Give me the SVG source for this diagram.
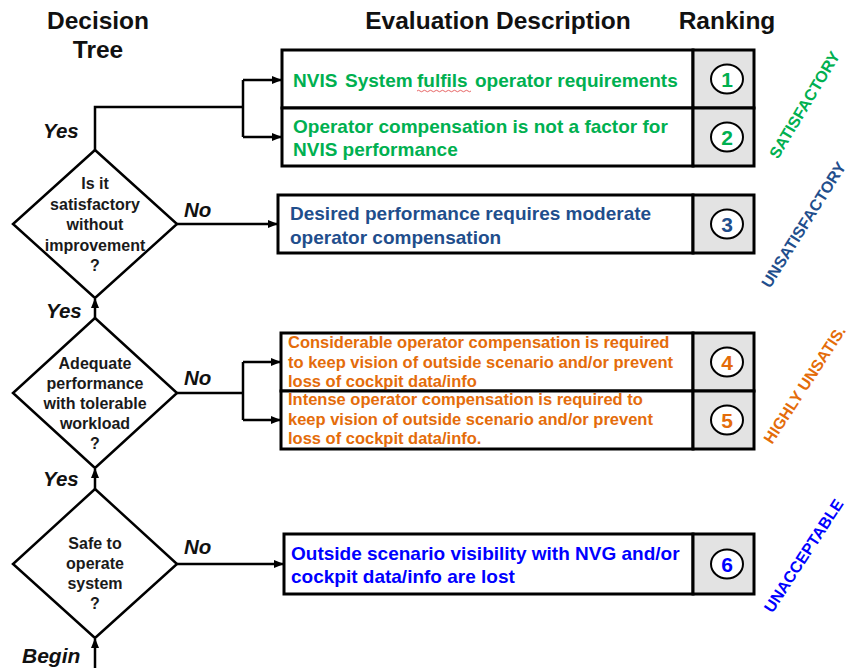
<svg xmlns="http://www.w3.org/2000/svg" width="858" height="668" viewBox="0 0 858 668">
<style>
.hdr{font-family:"Liberation Sans",Arial,sans-serif;font-weight:bold;font-size:24.5px;fill:#111;text-anchor:middle}
.box{fill:#fff;stroke:#000;stroke-width:3}
.rank{fill:#e3e3e3;stroke:#000;stroke-width:3}
.circ{fill:#fff;stroke:#000;stroke-width:2}
.num{font-family:"Liberation Sans",Arial,sans-serif;font-weight:bold;font-size:21px;text-anchor:middle}
.txt{font-family:"Liberation Sans",Arial,sans-serif;font-weight:bold;font-size:19px}
.txt2{font-family:"Liberation Sans",Arial,sans-serif;font-weight:bold;font-size:16.5px;fill:#e46c0a}
.dia{fill:#fff;stroke:#000;stroke-width:2.5}
.dtxt{font-family:"Liberation Sans",Arial,sans-serif;font-weight:bold;font-size:16px;fill:#1a1a1a;text-anchor:middle}
.lbl{font-family:"Liberation Sans",Arial,sans-serif;font-weight:bold;font-style:italic;font-size:20.5px;fill:#111}
.side{font-family:"Liberation Sans",Arial,sans-serif;font-weight:bold;font-size:16px;text-anchor:middle}
.con{fill:none;stroke:#000;stroke-width:2.5}
.green{fill:#00b050}.dblue{fill:#1f4e8c}.orange{fill:#e46c0a}.blue{fill:#0000ff}
</style>
<defs>
<marker id="ah" markerWidth="10" markerHeight="10" refX="9" refY="5" orient="auto" markerUnits="userSpaceOnUse">
<path d="M0,1 L10,5 L0,9 Z" fill="#000"/>
</marker>
</defs>

<g id="headers">
<text class="hdr" x="98" y="29">Decision</text>
<text class="hdr" x="98" y="58">Tree</text>
<text class="hdr" x="498" y="29">Evaluation Description</text>
<text class="hdr" x="727" y="29">Ranking</text>
</g>

<g id="connectors">
<path class="con" d="M95,150 V107 H243"/>
<path class="con" d="M243,80 V137"/>
<path class="con" d="M243,80 H281" marker-end="url(#ah)"/>
<path class="con" d="M243,137 H281" marker-end="url(#ah)"/>
<path class="con" d="M177,224 H277" marker-end="url(#ah)"/>
<path class="con" d="M95,318 V299" marker-end="url(#ah)"/>
<path class="con" d="M177,393 H243"/>
<path class="con" d="M243,362 V420"/>
<path class="con" d="M243,362 H280" marker-end="url(#ah)"/>
<path class="con" d="M243,420 H280" marker-end="url(#ah)"/>
<path class="con" d="M95,489 V469" marker-end="url(#ah)"/>
<path class="con" d="M177,564 H283" marker-end="url(#ah)"/>
<path class="con" d="M95,668 V639" marker-end="url(#ah)"/>
<text class="lbl" x="43" y="138">Yes</text>
<text class="lbl" x="184" y="217">No</text>
<text class="lbl" x="46" y="318">Yes</text>
<text class="lbl" x="184" y="385">No</text>
<text class="lbl" x="43" y="486">Yes</text>
<text class="lbl" x="184" y="554">No</text>
<text class="lbl" x="22" y="663" style="font-size:21px">Begin</text>
</g>

<g id="d1">
<polygon class="dia" points="95,150 177,224 95,298 13,224"/>
<text class="dtxt" x="95" y="189">Is it</text>
<text class="dtxt" x="95" y="210">satisfactory</text>
<text class="dtxt" x="95" y="230">without</text>
<text class="dtxt" x="95" y="251">improvement</text>
<text class="dtxt" x="95" y="271">?</text>
</g>
<g id="d2">
<polygon class="dia" points="95,318 177,393 95,468 13,393"/>
<text class="dtxt" x="95" y="369">Adequate</text>
<text class="dtxt" x="95" y="389">performance</text>
<text class="dtxt" x="95" y="409">with tolerable</text>
<text class="dtxt" x="95" y="429">workload</text>
<text class="dtxt" x="95" y="449">?</text>
</g>
<g id="d3">
<polygon class="dia" points="95,489 177,564 95,638 13,564"/>
<text class="dtxt" x="95" y="549">Safe to</text>
<text class="dtxt" x="95" y="569">operate</text>
<text class="dtxt" x="95" y="589">system</text>
<text class="dtxt" x="95" y="609">?</text>
</g>

<g id="b1">
<rect class="box" x="282" y="50" width="411" height="58"/>
<rect class="rank" x="693" y="50" width="61" height="58"/>
<text class="txt green" y="87"><tspan x="293">NVIS </tspan><tspan x="345">System </tspan><tspan x="417">fulfils </tspan><tspan x="475">operator requirements</tspan></text>
<path d="M417,91 q1.5,-1.5 3,0 t3,0 t3,0 t3,0 t3,0 t3,0 t3,0 t3,0 t3,0 t3,0 t3,0 t3,0 t3,0 t3,0 t3,0 t3,0 t3,0 t3,0" fill="none" stroke="#e04040" stroke-width="0.8"/>
<ellipse class="circ" cx="727" cy="79" rx="16" ry="14.5"/>
<text class="num green" x="727" y="87">1</text>
</g>
<g id="b2">
<rect class="box" x="282" y="108" width="411" height="58"/>
<rect class="rank" x="693" y="108" width="61" height="58"/>
<text class="txt green" x="293" y="133">Operator compensation is not a factor for</text>
<text class="txt green" x="293" y="156">NVIS performance</text>
<ellipse class="circ" cx="727" cy="137" rx="16" ry="14.5"/>
<text class="num green" x="727" y="145">2</text>
</g>
<g id="b3">
<rect class="box" x="278" y="195" width="415" height="58"/>
<rect class="rank" x="693" y="195" width="61" height="58"/>
<text class="txt dblue" x="290" y="220">Desired performance requires moderate</text>
<text class="txt dblue" x="290" y="244">operator compensation</text>
<ellipse class="circ" cx="727" cy="224" rx="16" ry="14.5"/>
<text class="num dblue" x="727" y="232">3</text>
</g>
<g id="b4">
<rect class="box" x="281" y="333" width="412" height="58"/>
<rect class="rank" x="693" y="333" width="61" height="58"/>
<text class="txt2" x="288" y="348">Considerable operator compensation is required</text>
<text class="txt2" x="288" y="368">to keep vision of outside scenario and/or prevent</text>
<text class="txt2" x="288" y="387">loss of cockpit data/info</text>
<ellipse class="circ" cx="727" cy="362" rx="16" ry="14.5"/>
<text class="num orange" x="727" y="370">4</text>
</g>
<g id="b5">
<rect class="box" x="281" y="391" width="412" height="58"/>
<rect class="rank" x="693" y="391" width="61" height="58"/>
<text class="txt2" x="288" y="405">Intense operator compensation is required to</text>
<text class="txt2" x="288" y="425">keep vision of outside scenario and/or prevent</text>
<text class="txt2" x="288" y="444">loss of cockpit data/info.</text>
<ellipse class="circ" cx="727" cy="420" rx="16" ry="14.5"/>
<text class="num orange" x="727" y="428">5</text>
</g>
<g id="b6">
<rect class="box" x="284" y="534" width="409" height="60"/>
<rect class="rank" x="693" y="534" width="61" height="60"/>
<text class="txt blue" x="291" y="560">Outside scenario visibility with NVG and/or</text>
<text class="txt blue" x="291" y="583">cockpit data/info are lost</text>
<ellipse class="circ" cx="727" cy="564" rx="16" ry="14.5"/>
<text class="num blue" x="727" y="572">6</text>
</g>

<g id="side-labels">
<text class="side green" transform="translate(805,105) rotate(-59)" y="5">SATISFACTORY</text>
<text class="side dblue" transform="translate(804,225) rotate(-58)" y="5">UNSATISFACTORY</text>
<text class="side orange" transform="translate(805,385) rotate(-57)" y="5">HIGHLY UNSATIS.</text>
<text class="side blue" transform="translate(804,556) rotate(-57)" y="5">UNACCEPTABLE</text>
</g>
</svg>
